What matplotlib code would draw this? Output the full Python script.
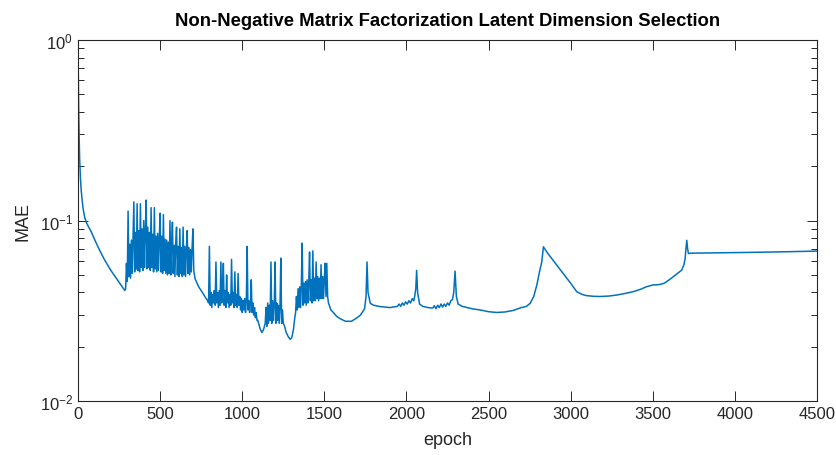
import numpy as np
import matplotlib
matplotlib.use("Agg")
import matplotlib.pyplot as plt
from matplotlib.ticker import LogLocator, NullFormatter

plt.rcParams['font.family'] = ['Liberation Sans', 'DejaVu Sans']
plt.rcParams['mathtext.default'] = 'regular'

# --- training curve (MAE per epoch), sampled by segment ---
warmup_epoch = [0, 2, 4, 6, 8, 10, 15, 20, 30, 40, 50, 65, 80, 100, 130, 160, 200, 240, 270, 285]
warmup_mae = [0.88, 0.60, 0.42, 0.32, 0.26, 0.22, 0.17, 0.145, 0.118, 0.105, 0.098, 0.092,
              0.087, 0.079, 0.069, 0.061, 0.053, 0.047, 0.043, 0.041]

burst1_epoch = np.arange(290, 710, 5)
burst1_mae = [
    0.042, 0.058, 0.046, 0.113, 0.049, 0.074, 0.048, 0.078, 0.051, 0.082,
    0.127, 0.052, 0.086, 0.054, 0.124, 0.053, 0.088, 0.052, 0.124, 0.055,
    0.090, 0.053, 0.100, 0.055, 0.088, 0.130, 0.054, 0.092, 0.055, 0.086,
    0.053, 0.118, 0.055, 0.084, 0.052, 0.118, 0.054, 0.082, 0.052, 0.085,
    0.053, 0.080, 0.110, 0.052, 0.082, 0.051, 0.108, 0.053, 0.079, 0.051,
    0.078, 0.050, 0.076, 0.051, 0.100, 0.050, 0.074, 0.098, 0.051, 0.073,
    0.049, 0.075, 0.092, 0.050, 0.072, 0.049, 0.090, 0.051, 0.071, 0.049,
    0.092, 0.050, 0.072, 0.049, 0.070, 0.088, 0.051, 0.071, 0.050, 0.069,
    0.052, 0.072, 0.090, 0.053,
]

settle1_epoch = [712, 720, 735, 750, 765, 780, 790]
settle1_mae = [0.048, 0.046, 0.043, 0.041, 0.039, 0.037, 0.036]

burst2_epoch = np.arange(795, 1255, 5)
burst2_mae = [
    0.035, 0.072, 0.034, 0.040, 0.033, 0.039, 0.035, 0.041, 0.034, 0.059,
    0.035, 0.040, 0.033, 0.041, 0.034, 0.059, 0.035, 0.040, 0.058, 0.034,
    0.041, 0.033, 0.050, 0.035, 0.040, 0.033, 0.039, 0.034, 0.061, 0.035,
    0.040, 0.033, 0.052, 0.034, 0.039, 0.033, 0.051, 0.034, 0.038, 0.032,
    0.037, 0.031, 0.036, 0.032, 0.037, 0.031, 0.036, 0.072, 0.032, 0.036,
    0.031, 0.035, 0.047, 0.031, 0.035, 0.030, 0.033, 0.029, 0.031, 0.028,
    0.028, 0.027, 0.026, 0.025, 0.0245, 0.024, 0.0245, 0.025, 0.026,
    0.027, 0.033, 0.026, 0.035, 0.027, 0.034, 0.028, 0.059, 0.027, 0.036,
    0.028, 0.034, 0.059, 0.027, 0.035, 0.028, 0.034, 0.027, 0.033, 0.062,
    0.027, 0.032, 0.027,
]

dip_epoch = [1258, 1268, 1280, 1292, 1302, 1312, 1320]
dip_mae = [0.026, 0.024, 0.0228, 0.022, 0.0225, 0.025, 0.029]

burst3_epoch = np.arange(1325, 1525, 5)
burst3_mae = [
    0.031, 0.038, 0.032, 0.042, 0.033, 0.043, 0.033, 0.044, 0.075, 0.034,
    0.045, 0.035, 0.046, 0.034, 0.047, 0.035, 0.045, 0.067, 0.036, 0.047,
    0.035, 0.068, 0.036, 0.048, 0.036, 0.059, 0.037, 0.049, 0.036, 0.048,
    0.037, 0.057, 0.037, 0.049, 0.037, 0.048, 0.058, 0.038, 0.058, 0.038,
]

mid_epoch = [1525, 1540, 1555, 1575, 1600, 1630, 1665, 1695, 1720, 1745, 1754, 1760, 1766,
             1780, 1800, 1840, 1900, 1945, 1955, 1965, 1975, 1985, 1995, 2005, 2015, 2025,
             2035, 2045, 2052, 2057, 2062, 2068, 2080, 2100, 2130, 2160, 2170, 2180, 2190,
             2200, 2210, 2220, 2230, 2240, 2250, 2260, 2270, 2280, 2288, 2296, 2304, 2315, 2340]
mid_mae = [0.035, 0.032, 0.031, 0.0295, 0.0285, 0.0277, 0.0277, 0.0288, 0.030, 0.0325, 0.038,
           0.059, 0.040, 0.0348, 0.034, 0.0334, 0.033, 0.0335, 0.0345, 0.0335, 0.035, 0.034,
           0.0355, 0.0345, 0.036, 0.035, 0.037, 0.036, 0.039, 0.042, 0.053, 0.040, 0.0345,
           0.0335, 0.033, 0.0328, 0.0338, 0.0325, 0.034, 0.033, 0.0345, 0.0332, 0.0345, 0.0335,
           0.035, 0.034, 0.036, 0.0365, 0.040, 0.0525, 0.038, 0.0345, 0.0335]

late_epoch = [2400, 2450, 2500, 2550, 2600, 2650, 2700, 2730, 2753, 2775, 2794, 2810, 2824, 2834,
              2860, 2895, 2940, 2976, 3000, 3037, 3070, 3098, 3140, 3178, 3230, 3280, 3330,
              3381, 3430, 3460, 3483, 3500, 3520, 3544, 3570, 3600, 3625, 3650, 3676, 3690,
              3697, 3702, 3707, 3712, 3717, 3727, 3900, 4100, 4300, 4500]
late_mae = [0.0325, 0.032, 0.0313, 0.031, 0.0312, 0.0318, 0.033, 0.0335, 0.0348, 0.038, 0.044,
            0.052, 0.059, 0.0716, 0.066, 0.060, 0.053, 0.048, 0.045, 0.0404, 0.039, 0.0384,
            0.0381, 0.038, 0.0382, 0.0387, 0.0395, 0.0404, 0.0418, 0.043, 0.0436, 0.044, 0.0441,
            0.0443, 0.045, 0.047, 0.0489, 0.051, 0.0532, 0.057, 0.0617, 0.070, 0.0778, 0.070,
            0.0657, 0.0660, 0.0663, 0.0667, 0.0672, 0.0678]

epoch = np.concatenate([warmup_epoch, burst1_epoch, settle1_epoch, burst2_epoch, dip_epoch,
                        burst3_epoch, mid_epoch, late_epoch])
mae = np.concatenate([warmup_mae, burst1_mae, settle1_mae, burst2_mae, dip_mae,
                      burst3_mae, mid_mae, late_mae])

# --- figure ---
fig = plt.figure(figsize=(8.37, 4.56), dpi=100)
ax = fig.add_axes([0.0932, 0.118, 0.8829, 0.792])

ax.semilogy(epoch, mae, color='#0072BD', linewidth=1.1)

ax.set_xlim(0, 4500)
ax.set_ylim(1e-2, 1)
ax.set_xticks(range(0, 4501, 500))
ax.set_yticks([1e-2, 1e-1, 1])
ax.set_yticklabels(['$10^{-2}$', '$10^{-1}$', '$10^{0}$'])
ax.yaxis.set_minor_locator(LogLocator(base=10, subs=np.arange(2, 10)))
ax.yaxis.set_minor_formatter(NullFormatter())

ax.tick_params(which='both', direction='in', top=True, right=True,
               colors='#262626', labelcolor='#262626', labelsize=12, width=0.7)
ax.tick_params(which='major', length=7)
ax.tick_params(which='minor', length=4)
for s in ax.spines.values():
    s.set_color('#262626')
    s.set_linewidth(0.8)

ax.set_title('Non-Negative Matrix Factorization Latent Dimension Selection',
             fontsize=13.3, fontweight='bold', pad=11)
ax.set_xlabel('epoch', fontsize=13, color='#262626', labelpad=7)
ax.set_ylabel('MAE', fontsize=13, color='#262626', labelpad=6)

fig.savefig('out.png', dpi=100)
